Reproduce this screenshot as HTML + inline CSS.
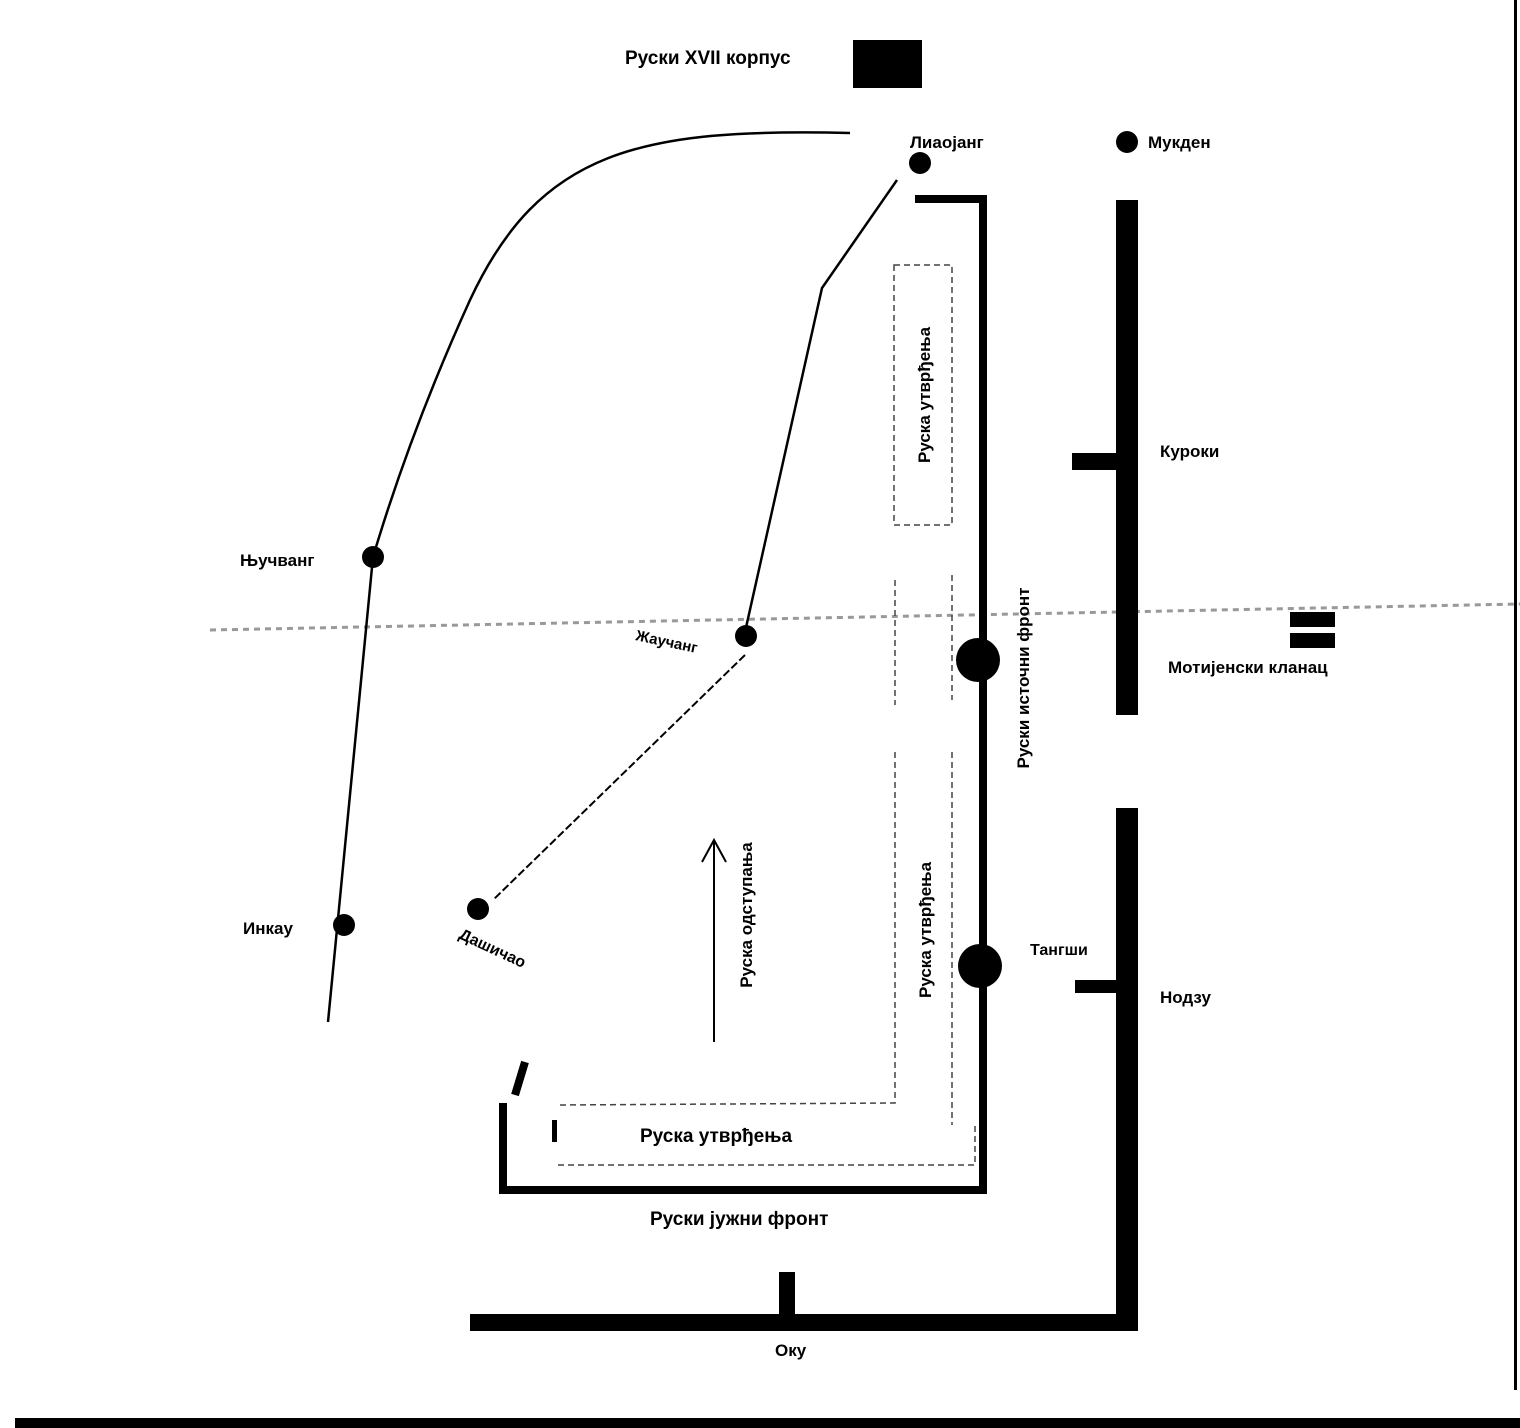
<!DOCTYPE html>
<html><head><meta charset="utf-8"><style>
html,body{margin:0;padding:0;background:#fff;width:1520px;height:1428px;overflow:hidden}
svg text{font-family:"Liberation Sans",sans-serif;font-weight:bold;fill:#000}
</style></head><body>
<svg width="1520" height="1428" viewBox="0 0 1520 1428" xmlns="http://www.w3.org/2000/svg">
<rect width="1520" height="1428" fill="#fff"/>
<!-- noise line -->
<path d="M210,630 L1520,604" stroke="#999" stroke-width="3" stroke-dasharray="6,5" fill="none"/>
<!-- top corps -->
<text x="625" y="64" font-size="19">Руски XVII корпус</text>
<rect x="853" y="40" width="69" height="48" fill="#000"/>
<!-- left curve -->
<path d="M850,133 C640,128 540,150 470,300 C420,410 390,500 373,557 L328,1022" stroke="#000" stroke-width="2.5" fill="none"/>
<!-- liaoyang line -->
<path d="M897,180 L822,288 L745,632" stroke="#000" stroke-width="2.5" fill="none"/>
<path d="M745,655 L493,900" stroke="#000" stroke-width="2" stroke-dasharray="8,3" fill="none"/>
<!-- dots -->
<circle cx="920" cy="163" r="11"/>
<circle cx="1127" cy="142" r="11"/>
<circle cx="373" cy="557" r="11"/>
<circle cx="746" cy="636" r="11"/>
<circle cx="344" cy="925" r="11"/>
<circle cx="478" cy="909" r="11"/>
<circle cx="978" cy="660" r="22"/>
<circle cx="980" cy="966" r="22"/>
<!-- east/south front -->
<path d="M915,199 L983,199 L983,1190 L503,1190 L503,1103" stroke="#000" stroke-width="8" fill="none"/>
<path d="M525,1062 L515,1095" stroke="#000" stroke-width="8"/>
<!-- dashed fortification boxes -->
<g stroke="#444" stroke-width="1.5" stroke-dasharray="6,4" fill="none">
<rect x="894" y="265" width="58" height="260"/>
<path d="M895,752 L895,1103 L558,1105"/>
<path d="M952,752 L952,1125"/>
<path d="M558,1165 L975,1165 L975,1125"/>
<path d="M952,575 L952,700 M895,580 L895,705"/>
</g>
<!-- japanese lines -->
<rect x="1116" y="200" width="22" height="515" fill="#000"/>
<rect x="1116" y="808" width="22" height="522" fill="#000"/>
<rect x="470" y="1314" width="668" height="17" fill="#000"/>
<rect x="779" y="1272" width="16" height="48" fill="#000"/>
<rect x="1072" y="453" width="44" height="17" fill="#000"/>
<rect x="1075" y="980" width="42" height="13" fill="#000"/>
<rect x="1290" y="612" width="45" height="15" fill="#000"/>
<rect x="1290" y="633" width="45" height="15" fill="#000"/>
<!-- arrow -->
<path d="M714,1042 L714,842 M702,862 L714,840 L726,862" stroke="#000" stroke-width="2" fill="none"/>
<rect x="552" y="1120" width="5" height="22" fill="#000"/>
<!-- labels -->
<text x="910" y="148" font-size="17">Лиаојанг</text>
<text x="1148" y="148" font-size="17">Мукден</text>
<text x="1160" y="457" font-size="17">Куроки</text>
<text x="1168" y="673" font-size="17">Мотијенски кланац</text>
<text x="240" y="566" font-size="17">Њучванг</text>
<text x="635" y="640" font-size="15" transform="rotate(12 635 640)">Жаучанг</text>
<text x="243" y="934" font-size="17">Инкау</text>
<text x="458" y="938" font-size="16" transform="rotate(25 458 938)">Дашичао</text>
<text x="1030" y="955" font-size="16">Тангши</text>
<text x="1160" y="1003" font-size="17">Нодзу</text>
<text x="640" y="1142" font-size="19">Руска утврђења</text>
<text x="650" y="1225" font-size="19">Руски јужни фронт</text>
<text x="775" y="1356" font-size="17">Оку</text>
<text transform="translate(930 395) rotate(-90)" font-size="17" text-anchor="middle">Руска утврђења</text>
<text transform="translate(931 930) rotate(-90)" font-size="17" text-anchor="middle">Руска утврђења</text>
<text transform="translate(752 915) rotate(-90)" font-size="17" text-anchor="middle">Руска одступања</text>
<text transform="translate(1029 678) rotate(-90)" font-size="17" text-anchor="middle">Руски источни фронт</text>
<!-- border -->
<rect x="1514" y="0" width="3" height="1390" fill="#000"/>
<rect x="15" y="1418" width="1505" height="10" fill="#000"/>
</svg>
</body></html>
